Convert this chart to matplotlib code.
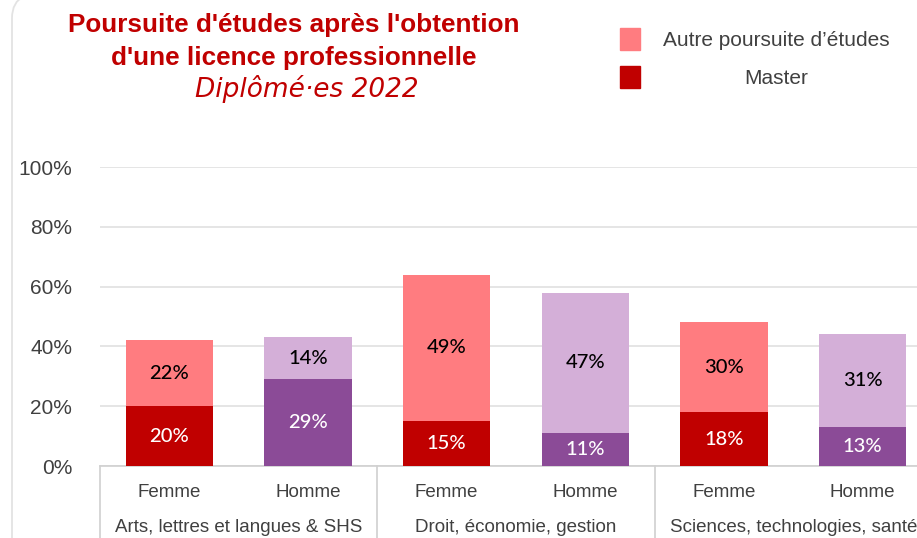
import numpy as np
import matplotlib.pyplot as plt
from matplotlib.patches import Rectangle, PathPatch
from matplotlib.path import Path
import matplotlib.transforms as mtransforms

# data
domaines = ["Arts, lettres et langues & SHS", "Droit, économie, gestion", "Sciences, technologies, santé"]
sexes = ["Femme", "Homme"]
master = [20, 29, 15, 11, 18, 13]
autre = [22, 14, 49, 47, 30, 31]

col_master = {"Femme": "#C00000", "Homme": "#8B4B97"}
col_autre = {"Femme": "#FF7C80", "Homme": "#D4AFD8"}
grey_txt = "#404040"
sans = ["Liberation Sans", "DejaVu Sans"]

W, H = 917, 538
fig = plt.figure(figsize=(W / 100, H / 100), dpi=100)
ax = fig.add_axes([100/W, 72/H, 832/W, 299/H])

# faint chart-area frame: left edge with rounded corner going off the top
def px(xp, yp):
    return (xp / W, 1 - yp / H)

frame_path = Path([px(12, 545), px(12, 18), px(12, 2), px(24, -4)],
                  [Path.MOVETO, Path.LINETO, Path.CURVE3, Path.CURVE3])
fig.patches.append(PathPatch(frame_path, transform=fig.transFigure, fill=False,
                             ec="#E3E3E3", lw=1.3, clip_on=False))

x = np.arange(len(master))
labels_sexe = sexes * len(domaines)
m = np.array(master) / 100
a = np.array(autre) / 100
cm = [col_master[s] for s in labels_sexe]
ca = [col_autre[s] for s in labels_sexe]

ax.bar(x, m, width=0.63, color=cm, zorder=3)
ax.bar(x, a, width=0.63, bottom=m, color=ca, zorder=3)

for i in range(len(x)):
    ax.text(x[i], m[i] / 2, f"{master[i]}%", ha="center", va="center",
            color="white", fontsize=14.5, family="Lato", fontweight="medium", zorder=4)
    ax.text(x[i], m[i] + a[i] / 2, f"{autre[i]}%", ha="center", va="center",
            color="black", fontsize=14.5, family="Lato", fontweight="medium", zorder=4)

ax.set_xlim(-0.5, 5.5)
ax.set_ylim(0, 1.0)
ax.set_yticks(np.arange(0, 1.01, 0.2))
ax.set_yticklabels([f"{int(v*100)}%" for v in np.arange(0, 1.01, 0.2)],
                   fontsize=15, color=grey_txt, family=sans)
ax.yaxis.grid(True, color="#E0E0E0", lw=1.2, zorder=0)
ax.tick_params(axis="y", length=0, pad=20)
ax.tick_params(axis="x", length=0, pad=13)
for s in ["top", "right", "left"]:
    ax.spines[s].set_visible(False)
ax.spines["bottom"].set_color("#D0D0D0")
ax.spines["bottom"].set_linewidth(1.2)

ax.set_xticks(x)
ax.set_xticklabels(labels_sexe, fontsize=13.5, color=grey_txt, family=sans)

# category labels and separators below the axis
trans = mtransforms.blended_transform_factory(ax.transData, ax.transAxes)
for g, name in enumerate(domaines):
    ax.text(2 * g + 0.5, -0.205, name, transform=trans, ha="center", va="center",
            fontsize=13.5, color=grey_txt, family=sans)
for b in [-0.5, 1.5, 3.5, 5.5]:
    ax.plot([b, b], [0, -0.3], transform=trans, color="#D0D0D0", lw=1.2, clip_on=False)

# title
fig.text(294/W, 1 - 25/H, "Poursuite d'études après l'obtention", ha="center", va="center",
         fontsize=18.8, fontweight="bold", color="#C00000", family=sans)
fig.text(294/W, 1 - 58/H, "d'une licence professionnelle", ha="center", va="center",
         fontsize=18.8, fontweight="bold", color="#C00000", family=sans)
fig.text(307/W, 1 - 89/H, "Diplômé·es 2022", ha="center", va="center",
         fontsize=19, style="italic", color="#C00000", family="DejaVu Sans")

# legend
fig.patches.append(Rectangle((620/W, 1 - 50/H), 20/W, 22/H, transform=fig.transFigure,
                             color=col_autre["Femme"]))
fig.patches.append(Rectangle((620/W, 1 - 88/H), 20/W, 22/H, transform=fig.transFigure,
                             color=col_master["Femme"]))
fig.text(776/W, 1 - 40/H, "Autre poursuite d’études", ha="center", va="center",
         fontsize=15, color=grey_txt, family=sans)
fig.text(776/W, 1 - 78/H, "Master", ha="center", va="center",
         fontsize=15, color=grey_txt, family=sans)

fig.savefig("out.png", dpi=100)
